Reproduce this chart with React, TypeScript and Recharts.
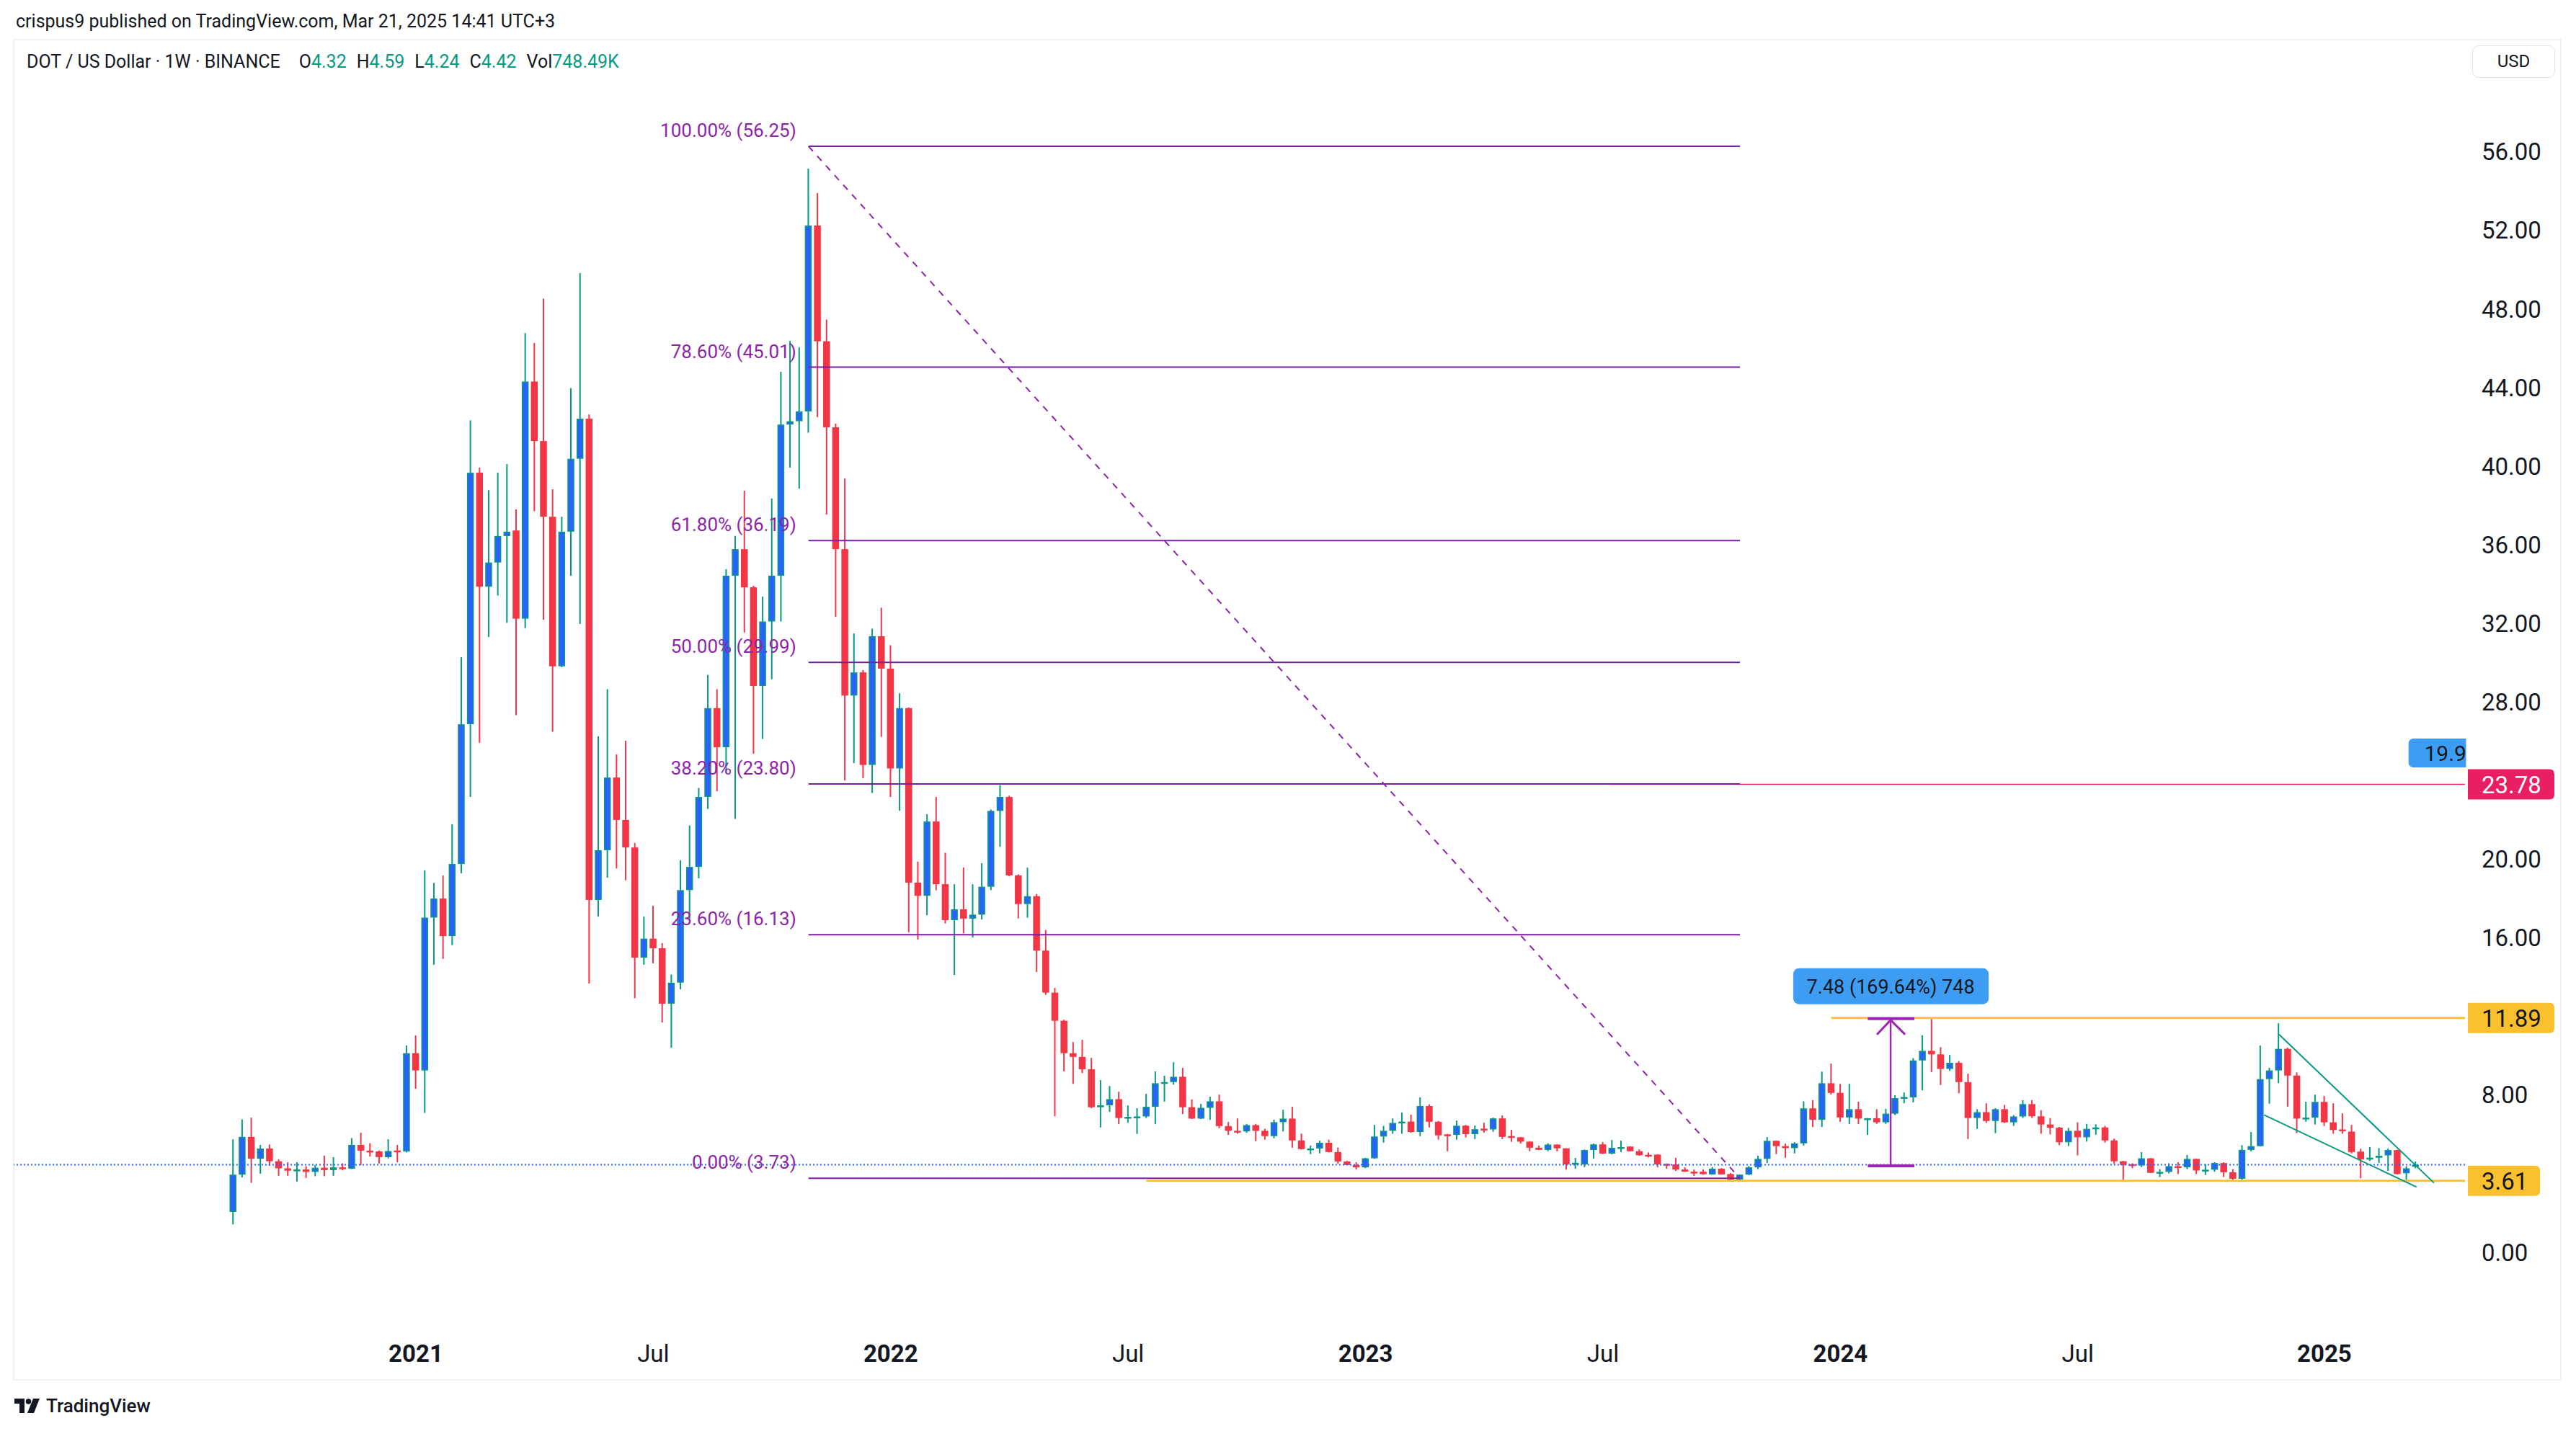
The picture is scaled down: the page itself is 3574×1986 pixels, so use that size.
import React from 'react';
import { ComposedChart, Bar, XAxis, YAxis, ReferenceLine, ReferenceDot } from 'recharts';

// weekly DOT/USD candles, Binance, from Aug 2020 to Mar 2025
const opens = [
  2.02, 3.92, 5.84, 4.73, 5.25, 4.60, 4.24, 4.12, 4.18, 4.06,
  4.27, 4.15, 4.29, 4.22, 5.43, 5.14, 5.10, 4.81, 5.15, 5.10,
  10.10, 9.22, 17.00, 17.97, 16.06, 19.73, 26.84, 39.64, 33.84, 35.07,
  36.42, 36.70, 32.21, 44.28, 41.25, 37.40, 29.79, 36.64, 40.35, 42.39,
  17.90, 20.43, 24.13, 21.97, 20.57, 14.96, 15.93, 15.44, 12.62, 13.69,
  18.40, 19.58, 23.14, 27.66, 25.67, 34.40, 35.75, 33.81, 28.79, 32.07,
  34.40, 42.09, 42.26, 42.76, 52.22, 46.33, 41.95, 35.75, 28.30, 29.48,
  24.77, 31.32, 29.67, 24.59, 27.66, 18.78, 18.11, 21.89, 18.70, 16.87,
  17.42, 16.95, 17.15, 18.57, 22.43, 23.14, 19.15, 17.69, 18.09, 15.32,
  13.18, 11.75, 10.10, 9.91, 9.28, 7.35, 7.45, 7.76, 6.80, 6.84,
  6.88, 7.37, 8.57, 8.63, 8.90, 7.35, 6.77, 7.32, 7.65, 6.39,
  6.15, 6.12, 6.44, 6.15, 5.88, 6.59, 6.77, 5.66, 5.22, 5.25,
  5.54, 5.07, 4.59, 4.41, 4.29, 4.75, 5.86, 6.15, 6.55, 6.62,
  6.09, 7.41, 6.61, 5.97, 5.94, 6.41, 5.98, 6.26, 6.22, 6.78,
  5.88, 5.82, 5.60, 5.29, 5.18, 5.45, 5.26, 4.46, 4.44, 5.17,
  5.46, 4.99, 5.28, 5.35, 5.11, 4.93, 4.94, 4.47, 4.44, 4.18,
  4.07, 4.07, 3.93, 4.22, 3.95, 3.67, 3.92, 4.29, 4.72, 5.64,
  5.37, 5.27, 5.51, 7.29, 6.71, 8.57, 8.08, 6.83, 7.25, 6.77,
  6.79, 6.58, 7.02, 7.81, 7.85, 9.73, 10.22, 10.04, 9.30, 9.61,
  8.63, 6.80, 7.10, 6.65, 7.25, 6.58, 6.88, 7.51, 6.89, 6.47,
  6.31, 5.57, 6.15, 5.82, 6.25, 6.32, 5.66, 4.60, 4.45, 4.39,
  4.75, 4.01, 4.06, 4.35, 4.29, 4.72, 4.13, 4.17, 4.51, 4.04,
  3.71, 5.18, 5.37, 8.78, 9.22, 10.32, 8.96, 6.77, 6.82, 7.62,
  6.58, 6.22, 6.11, 5.09, 4.70, 4.78, 4.90, 5.17, 3.99, 4.32,
];

const highs = [
  5.72, 6.73, 6.82, 5.43, 5.45, 4.70, 4.55, 4.55, 4.35, 4.41,
  4.89, 4.81, 4.50, 5.78, 6.05, 5.52, 5.15, 5.72, 5.43, 10.49,
  11.00, 19.40, 18.77, 19.14, 21.75, 30.25, 42.30, 39.90, 38.75, 39.64,
  40.08, 37.77, 46.75, 46.24, 48.50, 38.80, 37.40, 43.94, 49.80, 42.60,
  26.23, 28.62, 25.30, 26.00, 20.80, 17.05, 17.60, 15.70, 14.10, 19.92,
  21.69, 23.60, 29.35, 28.62, 34.73, 36.42, 38.72, 33.89, 33.33, 38.33,
  44.78, 46.35, 46.02, 55.12, 53.87, 47.43, 42.14, 39.35, 31.46, 29.60,
  31.70, 32.77, 30.86, 28.42, 27.70, 19.85, 22.26, 23.14, 20.30, 18.70,
  19.55, 18.70, 19.77, 22.50, 23.74, 23.20, 19.20, 19.54, 18.20, 16.37,
  13.42, 11.80, 10.67, 10.78, 9.86, 8.73, 8.43, 8.14, 7.44, 7.30,
  8.03, 9.17, 8.95, 9.64, 9.35, 7.74, 7.52, 7.88, 7.99, 6.60,
  6.78, 6.50, 6.50, 6.25, 6.72, 7.22, 7.37, 6.01, 5.40, 5.65,
  5.70, 5.30, 4.62, 4.55, 4.78, 6.45, 6.40, 6.78, 7.08, 6.97,
  7.85, 7.50, 6.65, 5.99, 6.67, 6.45, 6.42, 6.56, 6.82, 6.93,
  6.20, 5.84, 5.62, 5.40, 5.52, 5.47, 5.26, 4.77, 5.20, 5.50,
  5.57, 5.68, 5.65, 5.36, 5.20, 5.05, 4.96, 4.49, 4.77, 4.29,
  4.18, 4.18, 4.30, 4.25, 4.00, 3.93, 4.36, 4.88, 5.83, 5.65,
  5.50, 5.57, 7.65, 7.71, 9.16, 9.57, 8.54, 8.54, 7.63, 6.80,
  7.25, 7.27, 7.96, 8.10, 9.85, 11.01, 11.84, 10.40, 10.01, 9.70,
  9.06, 7.25, 7.55, 7.30, 7.47, 6.95, 7.71, 7.71, 7.20, 6.80,
  6.35, 6.30, 6.58, 6.50, 6.48, 6.40, 5.75, 4.62, 4.50, 5.06,
  4.76, 4.20, 4.50, 4.55, 4.92, 4.73, 4.45, 4.55, 4.55, 4.20,
  5.42, 6.09, 10.49, 9.36, 11.62, 10.38, 9.12, 7.63, 7.99, 7.92,
  7.55, 7.04, 6.45, 5.24, 5.32, 5.27, 5.25, 5.19, 4.35, 4.59,
];

const lows = [
  1.39, 3.78, 3.50, 3.97, 4.37, 3.86, 3.86, 3.57, 3.75, 3.84,
  3.84, 3.86, 4.14, 4.20, 4.40, 4.84, 4.48, 4.75, 4.55, 5.05,
  8.29, 7.06, 14.60, 14.90, 15.60, 19.25, 23.14, 25.90, 31.28, 33.39,
  32.00, 27.30, 31.73, 37.68, 32.15, 26.46, 29.74, 34.40, 31.94, 13.64,
  17.05, 19.03, 19.50, 18.90, 12.90, 14.60, 14.67, 11.66, 10.38, 13.35,
  16.91, 19.00, 22.53, 23.43, 24.35, 22.02, 31.51, 25.34, 26.09, 29.13,
  32.07, 39.90, 38.83, 41.68, 42.47, 37.51, 32.31, 23.98, 24.86, 24.10,
  23.34, 26.20, 23.14, 22.44, 16.26, 15.88, 17.12, 18.39, 16.70, 14.08,
  16.20, 15.99, 16.90, 18.40, 20.60, 19.10, 16.96, 17.00, 14.23, 13.07,
  6.89, 9.18, 8.54, 9.09, 7.30, 6.32, 7.11, 6.49, 6.56, 5.99,
  6.80, 6.49, 7.64, 8.50, 7.00, 6.75, 6.75, 6.71, 6.28, 5.94,
  6.00, 6.05, 5.62, 5.70, 5.77, 6.12, 5.29, 5.20, 4.96, 5.00,
  5.05, 4.47, 4.40, 4.19, 4.25, 4.72, 5.55, 6.00, 6.00, 6.05,
  5.88, 6.32, 5.70, 5.11, 5.70, 5.81, 5.73, 6.06, 6.10, 5.73,
  5.59, 5.50, 5.11, 5.17, 5.11, 5.11, 4.18, 4.22, 4.30, 4.74,
  4.97, 4.95, 5.07, 5.10, 4.88, 4.80, 4.29, 4.22, 4.11, 4.06,
  3.85, 3.92, 3.92, 3.92, 3.60, 3.58, 3.90, 4.20, 4.51, 4.96,
  4.78, 5.00, 5.40, 6.34, 6.34, 8.00, 6.61, 6.49, 6.49, 5.94,
  6.50, 6.50, 6.95, 7.55, 7.60, 8.21, 9.14, 8.48, 9.20, 8.06,
  5.73, 6.25, 6.55, 6.03, 6.55, 6.40, 6.80, 6.80, 6.00, 5.97,
  5.42, 5.37, 4.90, 5.60, 5.95, 5.55, 4.47, 3.56, 4.25, 4.30,
  4.00, 3.80, 3.98, 3.95, 4.20, 3.95, 3.90, 4.07, 3.80, 3.58,
  3.64, 5.10, 5.35, 7.53, 8.58, 7.38, 6.03, 6.61, 6.47, 6.39,
  6.00, 6.00, 5.00, 3.74, 4.61, 4.51, 4.11, 3.93, 3.64, 4.24,
];

const closes = [
  3.92, 5.84, 4.73, 5.25, 4.60, 4.24, 4.12, 4.18, 4.06, 4.27,
  4.15, 4.29, 4.22, 5.43, 5.14, 5.12, 4.81, 5.12, 5.10, 10.10,
  9.22, 17.00, 17.97, 16.06, 19.73, 26.84, 39.64, 33.84, 35.07, 36.42,
  36.64, 32.21, 44.28, 41.25, 37.40, 29.79, 36.64, 40.35, 42.39, 17.90,
  20.43, 24.13, 21.97, 20.57, 14.96, 15.93, 15.44, 12.62, 13.69, 18.40,
  19.58, 23.14, 27.66, 25.67, 34.40, 35.75, 33.81, 28.79, 32.07, 34.40,
  42.09, 42.26, 42.76, 52.22, 46.33, 41.95, 35.75, 28.30, 29.48, 24.77,
  31.32, 29.67, 24.59, 27.66, 18.78, 18.11, 21.89, 18.70, 16.87, 17.42,
  16.95, 17.15, 18.57, 22.43, 23.14, 19.15, 17.69, 18.09, 15.32, 13.18,
  11.75, 10.10, 9.91, 9.28, 7.35, 7.45, 7.76, 6.80, 6.86, 6.88,
  7.37, 8.57, 8.63, 8.90, 7.35, 6.77, 7.32, 7.65, 6.39, 6.15,
  6.12, 6.44, 6.15, 5.88, 6.59, 6.77, 5.66, 5.22, 5.25, 5.54,
  5.07, 4.59, 4.41, 4.29, 4.75, 5.86, 6.15, 6.55, 6.62, 6.09,
  7.41, 6.61, 5.92, 5.94, 6.41, 5.98, 6.23, 6.22, 6.78, 5.84,
  5.82, 5.60, 5.29, 5.18, 5.45, 5.26, 4.44, 4.52, 5.17, 5.46,
  4.99, 5.28, 5.32, 5.11, 4.91, 4.88, 4.44, 4.44, 4.18, 4.07,
  4.04, 3.94, 4.22, 3.93, 3.67, 3.92, 4.29, 4.72, 5.64, 5.37,
  5.27, 5.51, 7.29, 6.71, 8.57, 8.08, 6.83, 7.25, 6.77, 6.79,
  6.58, 7.02, 7.81, 7.87, 9.73, 10.22, 10.04, 9.30, 9.61, 8.63,
  6.80, 7.10, 6.65, 7.25, 6.58, 6.88, 7.51, 6.89, 6.47, 6.31,
  5.57, 6.15, 5.82, 6.25, 6.32, 5.66, 4.60, 4.41, 4.39, 4.75,
  4.01, 4.06, 4.35, 4.29, 4.72, 4.13, 4.17, 4.51, 4.04, 3.71,
  5.18, 5.37, 8.78, 9.22, 10.32, 8.96, 6.77, 6.82, 7.62, 6.58,
  6.19, 6.17, 5.07, 4.70, 4.78, 4.88, 5.17, 3.95, 4.24, 4.42,
];

// time axis: week index of first bar of each labelled period
const xTickValues = [20, 46, 72, 98, 124, 150, 176, 202, 229];
const xTickLabels = ['2021', 'Jul', '2022', 'Jul', '2023', 'Jul', '2024', 'Jul', '2025'];
const yTickValues = [0, 3.61, 8, 11.89, 16, 20, 23.78, 28, 32, 36, 40, 44, 48, 52, 56];

const fibPercents = ['100.00%', '78.60%', '61.80%', '50.00%', '38.20%', '23.60%', '0.00%'];
const fibPrices = [56.25, 45.01, 36.19, 29.99, 23.8, 16.13, 3.73];
const fibFrom = 63;
const fibTo = 165;

const wedgeUpper = [{ x: 224, y: 11.07 }, { x: 241, y: 3.5 }];
const wedgeLower = [{ x: 222.4, y: 6.96 }, { x: 239.1, y: 3.29 }];

const lastPrice = 4.42;
const X_MIN = -24.04;
const X_MAX = 244.4;
const Y_MIN = -4.14;
const Y_MAX = 61.68;

const GREEN = '#089981';
const BLUE = '#2962ff';
const RED = '#f23645';
const PURPLE = '#7b1fa2';
const FONT = 'Roboto, "Noto Sans", sans-serif';
const INK = '#131722';

const data = opens.map((o, i) => ({ i, o, h: highs[i], l: lows[i], c: closes[i] }));

const badges: Record<string, { fill: string; color: string; w: number }> = {
  '23.78': { fill: '#e91e63', color: '#ffffff', w: 120 },
  '11.89': { fill: '#fbc02d', color: INK, w: 120 },
  '3.61': { fill: '#fbc02d', color: INK, w: 100 },
};

function Candle(props: any) {
  const { x, y, width, height, payload } = props;
  if (!payload || !Number.isFinite(y) || !Number.isFinite(x)) return null;
  const { o, h, l, c } = payload;
  const top = height >= 0 ? y : y + height;
  const span = Math.abs(height);
  const k = h > l ? span / (h - l) : 0;
  const at = (v: number) => top + (h - v) * k;
  const cx = x + width / 2;
  const up = c >= o;
  const bodyTop = at(Math.max(o, c));
  const bodyH = Math.max(at(Math.min(o, c)) - bodyTop, 2.5);
  return (
    <g>
      <line x1={cx} x2={cx} y1={top} y2={top + span} stroke={up ? GREEN : RED} strokeWidth={2} />
      {up ? (
        bodyH > 4 ? (
          <rect x={cx - 4} y={bodyTop + 0.75} width={8} height={bodyH - 1.5} fill={BLUE} stroke={GREEN} strokeWidth={1.5} />
        ) : (
          <rect x={cx - 4.75} y={bodyTop} width={9.5} height={bodyH} fill={GREEN} />
        )
      ) : (
        <rect x={cx - 4.75} y={bodyTop} width={9.5} height={bodyH} fill={RED} />
      )}
    </g>
  );
}

function XTick(props: any) {
  const { x, y, payload } = props;
  const idx = xTickValues.indexOf(payload.value);
  const label = xTickLabels[idx] ?? '';
  const isYear = label !== 'Jul';
  return (
    <text x={x} y={y + 40} textAnchor="middle" fontFamily={FONT} fontSize={33}
      fontWeight={isYear ? 700 : 400} fill={INK}>
      {label}
    </text>
  );
}

function YTick(props: any) {
  const { x, y, payload } = props;
  const label = Number(payload.value).toFixed(2);
  const b = badges[label];
  if (b) {
    const x0 = x + 4;
    const r = 7;
    const d = `M${x0},${y - 21} H${x0 + b.w - r} Q${x0 + b.w},${y - 21} ${x0 + b.w},${y - 21 + r} V${y + 21 - r} Q${x0 + b.w},${y + 21} ${x0 + b.w - r},${y + 21} H${x0} Z`;
    return (
      <g>
        <path d={d} fill={b.fill} />
        <text x={x + 23} y={y + 1} dominantBaseline="central" fontFamily={FONT} fontSize={33} fill={b.color}>
          {label}
        </text>
      </g>
    );
  }
  return (
    <text x={x + 23} y={y + 1} dominantBaseline="central" fontFamily={FONT} fontSize={33} fill={INK}>
      {label}
    </text>
  );
}

export default function App() {
  return (
    <div style={{ position: 'absolute', left: 0, top: 0, width: 3574, height: 1986, background: '#ffffff', overflow: 'hidden', fontFamily: FONT }}>
      <div style={{ position: 'absolute', left: 22, top: 15, fontSize: 25, lineHeight: '30px', color: INK }}>
        crispus9 published on TradingView.com, Mar 21, 2025 14:41 UTC+3
      </div>
      <div style={{ position: 'absolute', left: 18, top: 54, width: 3536, height: 1862, border: '2px solid #f0f1f4', boxSizing: 'border-box' }} />
      <div style={{ position: 'absolute', left: 19, top: 55 }}>
        <ComposedChart width={3532} height={1860} data={data} margin={{ top: 0, right: 0, bottom: 0, left: 0 }}>
          <XAxis type="number" dataKey="i" domain={[X_MIN, X_MAX]} allowDataOverflow ticks={xTickValues} interval={0}
            height={65} axisLine={false} tickLine={false} tickSize={0} tickMargin={0} tick={<XTick />} />
          <YAxis type="number" orientation="right" domain={[Y_MIN, Y_MAX]} allowDataOverflow ticks={yTickValues} interval={0}
            width={131} axisLine={false} tickLine={false} tickSize={0} tickMargin={0} tick={<YTick />} />

          <ReferenceLine y={lastPrice} stroke={BLUE} strokeWidth={2} strokeDasharray="2 3" />
          <ReferenceLine segment={[{ x: 100, y: 3.61 }, { x: X_MAX, y: 3.61 }]} stroke="#fbc02d" strokeWidth={3} />
          <ReferenceLine segment={[{ x: 175, y: 11.89 }, { x: X_MAX, y: 11.89 }]} stroke="#fbc02d" strokeWidth={3} />
          <ReferenceLine segment={[{ x: 150.7, y: 23.78 }, { x: X_MAX, y: 23.78 }]} stroke="#e91e63" strokeWidth={1.5} />

          <Bar dataKey={(d: any) => [d.l, d.h]} barSize={10} isAnimationActive={false}
            shape={(p: any) => <Candle {...p} />} />

          {fibPrices.map((price, k) => (
            <ReferenceLine key={`fib-${k}`} segment={[{ x: fibFrom, y: price }, { x: fibTo, y: price }]}
              stroke={PURPLE} strokeWidth={2} />
          ))}
          <ReferenceLine segment={[{ x: fibFrom, y: fibPrices[0] }, { x: fibTo, y: fibPrices[fibPrices.length - 1] }]}
            stroke="#8e24aa" strokeWidth={2} strokeDasharray="9 9" />
          {fibPrices.map((price, k) => (
            <ReferenceDot key={`fibl-${k}`} x={fibFrom} y={price} r={0} ifOverflow="visible"
              shape={(p: any) => (
                <text x={p.cx - 17} y={p.cy - 22} textAnchor="end" dominantBaseline="central"
                  fontFamily={FONT} fontSize={26} fill="#8e24aa">
                  {`${fibPercents[k]} (${price.toFixed(2)})`}
                </text>
              )} />
          ))}

          <ReferenceLine segment={wedgeUpper} stroke={GREEN} strokeWidth={2} />
          <ReferenceLine segment={wedgeLower} stroke={GREEN} strokeWidth={2} />

          <ReferenceLine segment={[{ x: 181.5, y: 4.37 }, { x: 181.5, y: 11.86 }]} stroke="#9c27b0" strokeWidth={2.5} />
          <ReferenceLine segment={[{ x: 179, y: 4.37 }, { x: 184.1, y: 4.37 }]} stroke="#9c27b0" strokeWidth={4} />
          <ReferenceLine segment={[{ x: 179, y: 11.86 }, { x: 184.1, y: 11.86 }]} stroke="#9c27b0" strokeWidth={4} />
          <ReferenceDot x={181.5} y={11.86} r={0} ifOverflow="visible"
            shape={(p: any) => (
              <g>
                <polyline points={`${p.cx - 19},${p.cy + 22} ${p.cx},${p.cy + 2} ${p.cx + 20},${p.cy + 22}`}
                  fill="none" stroke="#9c27b0" strokeWidth={3} />
                <rect x={p.cx - 135} y={p.cy - 70} width={271} height={50} rx={8} fill="#3d9df3" />
                <text x={p.cx} y={p.cy - 44} textAnchor="middle" dominantBaseline="central"
                  fontFamily={FONT} fontSize={27} fill={INK}>
                  7.48 (169.64%) 748
                </text>
              </g>
            )} />

          <ReferenceDot x={238.2} y={25.38} r={0} ifOverflow="visible"
            shape={(p: any) => (
              <svg x={p.cx} y={p.cy - 20} width={80} height={40} overflow="hidden">
                <rect x={0} y={0} width={120} height={40} rx={7} fill="#3d9df3" />
                <text x={22} y={21} dominantBaseline="central" fontFamily={FONT} fontSize={30} fill={INK}>19.96</text>
              </svg>
            )} />
        </ComposedChart>
      </div>

      <div style={{ position: 'absolute', left: 37, top: 71, fontSize: 25, lineHeight: '30px', color: INK, whiteSpace: 'pre' }}>
        <span>DOT / US Dollar · 1W · BINANCE</span>
        <span style={{ marginLeft: 26 }}>O</span><span style={{ color: GREEN }}>4.32</span>
        <span style={{ marginLeft: 14 }}>H</span><span style={{ color: GREEN }}>4.59</span>
        <span style={{ marginLeft: 14 }}>L</span><span style={{ color: GREEN }}>4.24</span>
        <span style={{ marginLeft: 14 }}>C</span><span style={{ color: GREEN }}>4.42</span>
        <span style={{ marginLeft: 14 }}>Vol</span><span style={{ color: GREEN }}>748.49K</span>
      </div>

      <div style={{ position: 'absolute', left: 3430, top: 63, width: 115, height: 45, border: '1.5px solid #e0e3eb', borderRadius: 9, boxSizing: 'border-box', fontSize: 24, lineHeight: '42px', textAlign: 'center', color: INK }}>
        USD
      </div>

      <div style={{ position: 'absolute', left: 20, top: 1936, display: 'flex', alignItems: 'center', color: INK }}>
        <svg width={40} height={26} viewBox="0 0 40 26">
          <path d="M0 3 H14 V23 H7 V10 H0 Z" fill={INK} />
          <circle cx={19.5} cy={7} r={3.8} fill={INK} />
          <path d="M26 3 H35 L27 23 H18 Z" fill={INK} />
        </svg>
        <span style={{ fontSize: 26, fontWeight: 500, marginLeft: 4 }}>TradingView</span>
      </div>
    </div>
  );
}
